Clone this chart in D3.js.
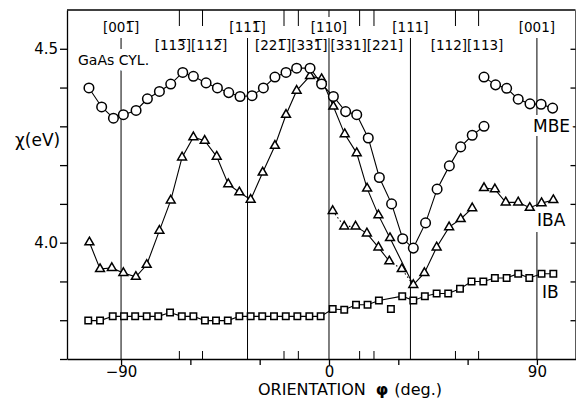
<!DOCTYPE html>
<meta charset="utf-8">
<script src="https://d3js.org/d3.v7.min.js"></script>
<style>
body { margin: 0; background: #fff; }
text { font-family: "DejaVu Sans", sans-serif; fill: #000; }
.axis path, .axis line { stroke: #000; stroke-width: 1.3; }
</style>
<div id="chart"></div>
<script>

// points are [orientation phi (deg), chi (eV)]
var mbeMain = [[-103.9,4.399],[-98.4,4.350],[-93.3,4.321],[-89.0,4.330],[-83.5,4.341],[-78.6,4.371],
  [-73.4,4.390],[-68.5,4.409],[-63.3,4.439],[-58.7,4.429],[-53.2,4.412],[-48.3,4.399],[-43.4,4.387],
  [-38.5,4.377],[-33.3,4.379],[-28.4,4.399],[-23.4,4.427],[-18.6,4.439],[-14.0,4.450],[-8.2,4.450],
  [-3.2,4.409],[1.9,4.377],[7.2,4.338],[12.0,4.330],[17.0,4.270],[21.8,4.168],[27.1,4.100],
  [31.9,4.010],[36.5,3.986],[41.8,4.051],[46.8,4.138],[52.1,4.198],[57.0,4.247],[62.0,4.277],[67.1,4.300]];
var mbeRight = [[67.1,4.427],[72.1,4.407],[76.9,4.398],[81.9,4.370],[87.0,4.358],[91.8,4.357],[96.8,4.347]];

var ibaMain = [[-103.7,4.001],[-99.1,3.932],[-94.0,3.935],[-89.0,3.922],[-83.6,3.912],[-78.9,3.943],
  [-73.4,4.031],[-68.5,4.109],[-63.6,4.220],[-58.7,4.272],[-53.8,4.263],[-48.6,4.222],[-43.6,4.151],
  [-38.8,4.130],[-33.9,4.111],[-28.7,4.181],[-23.4,4.250],[-18.6,4.330],[-14.0,4.392],[-8.2,4.430],
  [-3.2,4.422],[1.9,4.351],[6.8,4.280],[12.0,4.231],[16.5,4.140],[21.4,4.071],[26.4,4.012],[36.5,3.891]];
var ibaLower = [[1.6,4.082],[6.6,4.042],[11.5,4.042],[16.4,4.024],[21.4,3.988],[26.1,3.952],[31.5,3.932],[36.5,3.891]];
var ibaRise = [[36.5,3.891],[41.3,3.922],[46.6,3.988],[52.0,4.040],[57.0,4.061],[62.0,4.089]];
var ibaRight = [[67.1,4.141],[71.8,4.138],[76.5,4.104],[81.9,4.104],[86.9,4.090],[92.0,4.102],[97.1,4.110]];

var ibPoints = [[-104.2,3.799],[-99.1,3.799],[-93.6,3.810],[-88.7,3.810],[-83.9,3.810],[-78.9,3.810],
  [-73.9,3.810],[-68.8,3.820],[-63.7,3.810],[-58.7,3.810],[-53.7,3.799],[-48.9,3.799],[-43.8,3.799],
  [-38.8,3.810],[-33.9,3.810],[-28.9,3.810],[-23.8,3.810],[-18.7,3.810],[-13.7,3.810],[-8.5,3.810],
  [-3.6,3.810],[1.6,3.829],[6.6,3.827],[11.7,3.840],[16.7,3.840],[21.6,3.851],[31.7,3.862],
  [36.5,3.851],[41.5,3.862],[46.6,3.869],[51.6,3.869],[56.7,3.881],[61.7,3.900],[66.8,3.900],
  [71.8,3.909],[76.9,3.909],[81.9,3.920],[86.7,3.909],[92.0,3.920],[97.1,3.920]];
var ibStray = [[26.8,3.829]];

// crystal directions
var mainDirs = [-90, -35.26, 0, 35.26, 90];
var mainLabels = ["[001\u0305]", "[111\u0305]", "[110]", "[111]", "[001]"];
var pairDirs = [[-64.76,-54.74], [-19.47,-13.26], [13.26,19.47], [54.74,64.76]];
var pairLabels = ["[113\u0305][112\u0305]", "[221\u0305][331\u0305]", "[331][221]", "[112][113]"];

var yTicks = [3.7,3.8,3.9,4.0,4.1,4.2,4.3,4.4,4.5];
var yLabels = [4.0, 4.5];
var xTicks = [-90,-60,-30,0,30,60,90];
var xLabels = [-90, 0, 90];

var W = 576, H = 400;
var margin = {top: 10, right: 0.5, bottom: 41, left: 67};

var svg = d3.select("#chart").append("svg")
  .attr("width", W).attr("height", H);

var x = d3.scaleLinear().domain([-113.4, 106.7]).range([margin.left, W - margin.right]);
var y = d3.scaleLinear().domain([3.7, 4.6]).range([H - margin.bottom, margin.top]);

// axes
var yAxis = svg.append("g").attr("class", "axis")
  .attr("transform", "translate(" + margin.left + ",0)")
  .call(d3.axisLeft(y).tickValues(yTicks).tickSize(7).tickSizeOuter(0).tickPadding(2)
    .tickFormat(function(d) { return yLabels.indexOf(d) >= 0 ? d3.format(".1f")(d) : ""; }));
yAxis.selectAll("text").style("font-size", "15px");

svg.append("g").attr("class", "axis")
  .attr("transform", "translate(" + (W - margin.right) + ",0)")
  .call(d3.axisLeft(y).tickValues(yTicks.slice(1)).tickSize(5).tickSizeOuter(0).tickFormat(""));

var xAxis = svg.append("g").attr("class", "axis")
  .attr("transform", "translate(0," + (H - margin.bottom) + ")")
  .call(d3.axisBottom(x).tickValues(xTicks).tickSize(6).tickSizeOuter(0).tickPadding(1)
    .tickFormat(function(d) { return xLabels.indexOf(d) >= 0 ? d3.format("")(d) : ""; }));
xAxis.selectAll("text").style("font-size", "15px");

svg.append("line")
  .attr("x1", margin.left).attr("x2", W - margin.right)
  .attr("y1", margin.top).attr("y2", margin.top)
  .attr("stroke", "#000").attr("stroke-width", 1.3);

// direction lines and ticks
svg.selectAll(".dirline").data(mainDirs).enter().append("line")
  .attr("x1", x).attr("x2", x)
  .attr("y1", 38).attr("y2", y(3.7))
  .attr("stroke", "#000").attr("stroke-width", 1);

var pairFlat = d3.merge(pairDirs).concat([0]);
svg.selectAll(".toptick").data(pairFlat).enter().append("line")
  .attr("x1", x).attr("x2", x)
  .attr("y1", margin.top).attr("y2", function(d) { return d === 0 ? 17 : 26; })
  .attr("stroke", "#000").attr("stroke-width", 1);
svg.selectAll(".bottick").data(d3.merge(pairDirs)).enter().append("line")
  .attr("x1", x).attr("x2", x)
  .attr("y1", y(3.7)).attr("y2", y(3.7) - 8)
  .attr("stroke", "#000").attr("stroke-width", 1);

// direction labels
svg.selectAll(".mainlab").data(mainDirs).enter().append("text")
  .attr("x", x).attr("y", 32)
  .attr("text-anchor", "middle").style("font-size", "13.5px")
  .text(function(d, i) { return mainLabels[i]; });
svg.selectAll(".pairlab").data(pairDirs).enter().append("text")
  .attr("x", function(d) { return x((d[0] + d[1]) / 2); }).attr("y", 50)
  .attr("text-anchor", "middle").style("font-size", "13.5px")
  .text(function(d, i) { return pairLabels[i]; });

// text labels with white halo to break the lines behind them
function halo(sel, w) {
  return sel.attr("stroke", "#fff").attr("stroke-width", w).attr("paint-order", "stroke");
}
halo(svg.append("text").attr("x", 78).attr("y", 65).style("font-size", "14px").text("GaAs CYL."), 12);
halo(svg.append("text").attr("x", 533).attr("y", 132).style("font-size", "17px").text("MBE"), 8);
halo(svg.append("text").attr("x", 537).attr("y", 226).style("font-size", "17px").text("IBA"), 12);
svg.append("text").attr("x", 542).attr("y", 298).style("font-size", "17px").text("IB");

svg.append("text").attr("x", 15).attr("y", 146).style("font-size", "17px").text("\u03c7(eV)");

var xl = svg.append("text").attr("x", 258).attr("y", 395).style("font-size", "16px");
xl.append("tspan").text("ORIENTATION");
xl.append("tspan").attr("dx", 10).style("font-weight", "bold").text("\u03c6");
xl.append("tspan").attr("dx", 6).text("(deg.)");

// series lines
var line = d3.line().x(function(d) { return x(d[0]); }).y(function(d) { return y(d[1]); });
function drawLine(pts, dash) {
  svg.append("path").datum(pts)
    .attr("d", line).attr("fill", "none")
    .attr("stroke", "#000").attr("stroke-width", 1.1)
    .attr("stroke-dasharray", dash || null);
}
drawLine(mbeMain); drawLine(mbeRight);
drawLine(ibaMain); drawLine(ibaRise); drawLine(ibaRight);
drawLine(ibaLower.slice(0, 3), "1.5,2.5");
drawLine(ibaLower.slice(2, 6));
drawLine(ibaLower.slice(5), "1.5,2.5");
drawLine(ibPoints);

// markers
function drawMarks(pts, type, size) {
  svg.append("g").selectAll("path").data(pts).enter().append("path")
    .attr("transform", function(d) { return "translate(" + x(d[0]) + "," + y(d[1]) + ")"; })
    .attr("d", d3.symbol().type(type).size(size))
    .attr("fill", "#fff").attr("stroke", "#000").attr("stroke-width", 1.5);
}
drawMarks(ibPoints.concat(ibStray), d3.symbolSquare, 42);
var ibaAll = ibaMain.concat(ibaLower.slice(0, 7), ibaRise.slice(1), ibaRight);
drawMarks(ibaAll, d3.symbolTriangle, 34);
drawMarks(mbeMain.concat(mbeRight), d3.symbolCircle, 72);

</script>
